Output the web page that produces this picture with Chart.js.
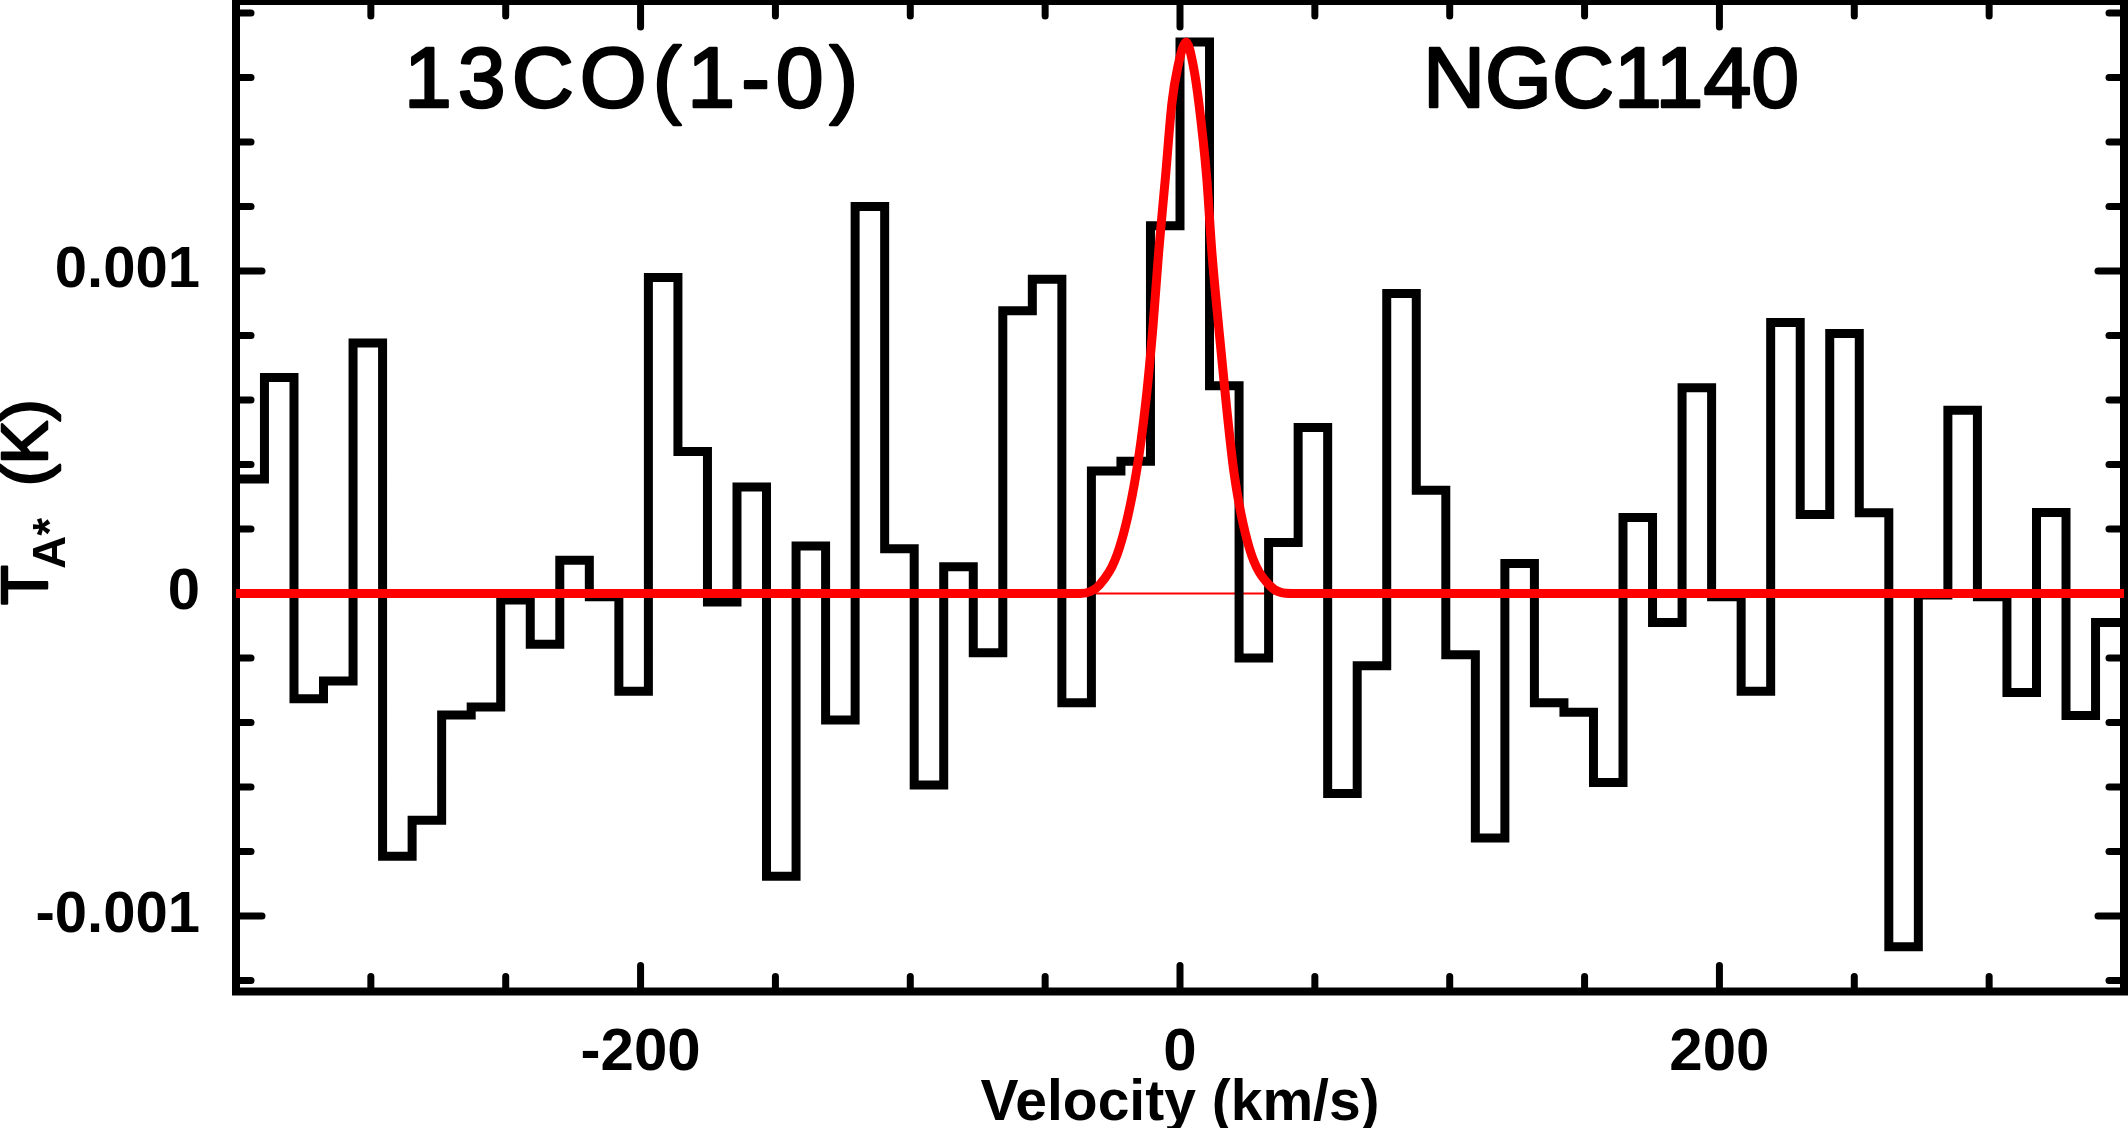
<!DOCTYPE html>
<html>
<head>
<meta charset="utf-8">
<title>NGC1140 13CO(1-0)</title>
<script src="https://cdn.jsdelivr.net/npm/chart.js@4.4.0/dist/chart.umd.min.js"></script>
<style>
  html, body { margin: 0; padding: 0; background: #fff; overflow: hidden; }
  #wrap { width: 2128px; height: 1128px; }
</style>
</head>
<body>
<div id="wrap"><canvas id="chart" width="2128" height="1128"></canvas></div>
<script>
// channel centres, km/s
let velocity = [
  -344.9, -334.0, -323.0, -312.1, -301.1, -290.2, -279.2, -268.3,
  -257.3, -246.4, -235.4, -224.5, -213.5, -202.6, -191.6, -180.7,
  -169.7, -158.8, -147.8, -136.9, -125.9, -115.0, -104.0, -93.1,
  -82.1, -71.2, -60.2, -49.3, -38.3, -27.4, -16.4, -5.5,
  5.5, 16.4, 27.4, 38.3, 49.3, 60.2, 71.2, 82.1,
  93.1, 104.0, 115.0, 125.9, 136.9, 147.8, 158.8, 169.7,
  180.7, 191.6, 202.6, 213.5, 224.5, 235.4, 246.4, 257.3,
  268.3, 279.2, 290.2, 301.1, 312.1, 323.0, 334.0, 344.9
];

// antenna temperature per channel, K
let tA = [
  0.000355, 0.00067, -0.000326, -0.000271, 0.000777, -0.000815, -0.000703, -0.000377,
  -0.000352, -0.00002, -0.000157, 0.000103, -0.00001, -0.000303, 0.00098, 0.00044,
  -0.000026, 0.00033, -0.000877, 0.000147, -0.000392, 0.0012, 0.000139, -0.000594,
  0.000083, -0.000184, 0.000877, 0.000974, -0.000339, 0.00038, 0.00041, 0.00114,
  0.00171, 0.000644, -0.0002, 0.000158, 0.000515, -0.00062, -0.000224, 0.00093,
  0.00032, -0.00019, -0.000758, 0.000093, -0.000339, -0.000368, -0.000586, 0.000236,
  -0.00009, 0.000638, -0.00001, -0.000303, 0.00084, 0.000245, 0.000806, 0.00025,
  -0.001095, -0.000005, 0.000568, -0.00001, -0.000307, 0.000251, -0.000378, -0.00009
];

// red fit curve
let fitVelocity = [-350, -37, -29.9, -22.5, -16.3, -12.6, -10.0, -7.9, -5.4, -3.0, -0.8,
  2.3, 5.0, 7.0, 9.9, 11.8, 14.3, 17.0, 20.1, 25.7, 33.1, 41.6, 350];
let fitT = [0, 0, 0.000026, 0.000141, 0.00037, 0.0006, 0.00083, 0.00106, 0.00129, 0.00152, 0.001633,
  0.00171, 0.001633, 0.00152, 0.00129, 0.00106, 0.00083, 0.0006, 0.00037, 0.000141, 0.000026, 0, 0];

let xTicks = [-200, 0, 200];
let yTicks = [-0.001, 0, 0.001];
let lineLabel = '13CO(1-0)';
let sourceLabel = 'NGC1140';

const FONT = '"Liberation Sans", Arial, Helvetica, sans-serif';

// histogram points, padded half a channel at each end
let half = (velocity[1] - velocity[0]) / 2;
let spectrum = velocity.map((v, i) => ({x: v, y: tA[i]}));
spectrum.unshift({x: velocity[0] - half, y: tA[0]});
spectrum.push({x: velocity[velocity.length - 1] + half, y: tA[tA.length - 1]});

let fit = fitVelocity.map((v, i) => ({x: v, y: fitT[i]}));

// no extra room for edge labels, the box fills the canvas like the original
function noEdgePadding(s) {
  s.paddingTop = 0;
  s.paddingBottom = 0;
  s.paddingLeft = 0;
  s.paddingRight = 0;
}

const frame = {
  id: 'frame',
  beforeDatasetsDraw(chart) {
    const {ctx, chartArea: a, scales: {x, y}} = chart;
    ctx.save();
    ctx.strokeStyle = '#000';
    ctx.lineWidth = 8;
    ctx.strokeRect(a.left, a.top, a.right - a.left, a.bottom - a.top);
    ctx.lineWidth = 7;
    ctx.lineCap = 'round';
    const seg = (x1, y1, x2, y2) => { ctx.beginPath(); ctx.moveTo(x1, y1); ctx.lineTo(x2, y2); ctx.stroke(); };
    for (let v = -300; v <= 300; v += 50) {
      const px = x.getPixelForValue(v);
      const len = xTicks.includes(v) ? 26 : 15;
      seg(px, a.bottom, px, a.bottom - len);
      seg(px, a.top, px, a.top + len);
    }
    for (let i = -6; i <= 9; i++) {
      const py = y.getPixelForValue(i * 0.0002);
      const len = i % 5 === 0 ? 26 : 15;
      seg(a.left, py, a.left + len, py);
      seg(a.right, py, a.right - len, py);
    }
    ctx.restore();
  },
  afterDraw(chart) {
    const {ctx} = chart;
    ctx.save();
    ctx.fillStyle = '#000';
    ctx.strokeStyle = '#000';
    ctx.lineWidth = 2.5;
    ctx.lineJoin = 'round';
    ctx.textBaseline = 'alphabetic';
    ctx.textAlign = 'left';
    ctx.font = '86px ' + FONT;
    ctx.letterSpacing = '6px';
    ctx.fillText(lineLabel, 404, 107);
    ctx.strokeText(lineLabel, 404, 107);
    ctx.letterSpacing = '0px';
    ctx.fillText(sourceLabel, 1423, 107);
    ctx.strokeText(sourceLabel, 1423, 107);

    // y axis title: T_A* (K)
    ctx.translate(47, 605);
    ctx.rotate(-Math.PI / 2);
    ctx.font = '65px ' + FONT;
    ctx.fillText('T', 0, 0);
    ctx.strokeText('T', 0, 0);
    ctx.font = 'bold 46px ' + FONT;
    ctx.fillText('A*', 36, 18);
    ctx.font = '65px ' + FONT;
    ctx.fillText('(K)', 119, 0);
    ctx.strokeText('(K)', 119, 0);
    ctx.restore();
  }
};

new Chart(document.getElementById('chart'), {
  type: 'line',
  data: {
    datasets: [
      {
        data: fit,
        borderColor: '#ff0000',
        borderWidth: 9,
        pointRadius: 0,
        cubicInterpolationMode: 'monotone',
        order: 0
      },
      {
        data: spectrum,
        borderColor: '#000',
        borderWidth: 9,
        stepped: 'middle',
        borderJoinStyle: 'miter',
        pointRadius: 0,
        order: 1
      },
      {
        data: [{x: -350, y: 0}, {x: 350, y: 0}],
        borderColor: '#ff0000',
        borderWidth: 2,
        pointRadius: 0,
        order: 2
      }
    ]
  },
  options: {
    responsive: false,
    animation: false,
    devicePixelRatio: 1,
    layout: {padding: {top: 1, right: 4, left: 0, bottom: 0}},
    plugins: {legend: {display: false}, tooltip: {enabled: false}},
    scales: {
      x: {
        type: 'linear',
        min: -350,
        max: 350,
        grid: {display: false, drawTicks: false},
        border: {display: false},
        afterBuildTicks: s => { s.ticks = xTicks.map(v => ({value: v})); },
        ticks: {
          color: '#000',
          font: {family: FONT, size: 60, weight: 'bold'},
          padding: 26,
          maxRotation: 0,
          autoSkip: false,
          callback: v => String(v)
        },
        title: {
          display: true,
          text: 'Velocity (km/s)',
          color: '#000',
          font: {family: FONT, size: 57, weight: 'bold', lineHeight: 1},
          padding: {top: 0, bottom: -5}
        },
        afterFit: s => { s.height = 136.5; noEdgePadding(s); }
      },
      y: {
        type: 'linear',
        min: -0.001234,
        max: 0.001837,
        grid: {display: false, drawTicks: false},
        border: {display: false},
        afterBuildTicks: s => { s.ticks = yTicks.map(v => ({value: v})); },
        ticks: {
          color: '#000',
          font: {family: FONT, size: 58, weight: 'bold'},
          padding: 36,
          autoSkip: false,
          callback: v => v === 0 ? '0' : String(v)
        },
        afterFit: s => { s.width = 236; noEdgePadding(s); }
      }
    }
  },
  plugins: [frame]
});
</script>
</body>
</html>
